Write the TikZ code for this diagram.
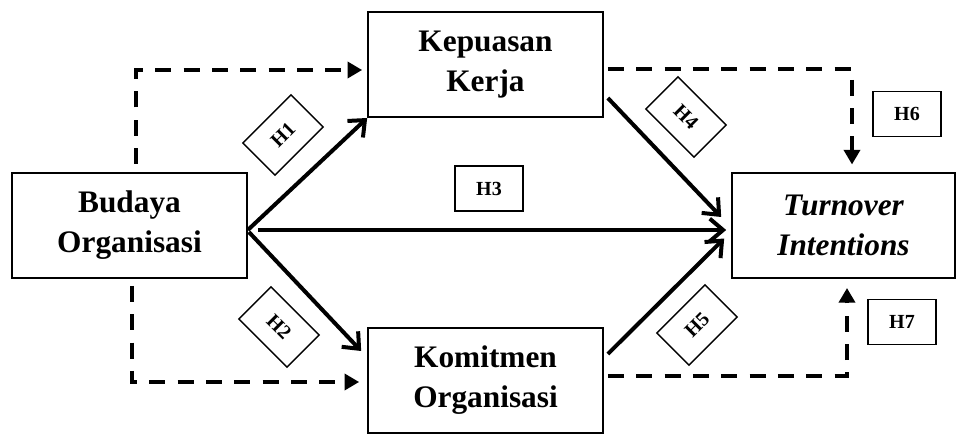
\documentclass[tikz,border=0pt]{standalone}
\usepackage{fontspec}
\setmainfont{Liberation Serif}
\usetikzlibrary{arrows.meta}
\begin{document}
\begin{tikzpicture}[x=0.75pt, y=-0.75pt, line width=3pt,
  main/.style = {draw, line width=1.5pt, minimum width=176pt, minimum height=78.75pt, inner sep=0pt, align=center, font=\fontsize{23.5}{30}\selectfont\bfseries},
  hyp/.style = {draw, line width=1.1pt, minimum width=51pt, minimum height=34pt, inner sep=0pt, font=\fontsize{15}{18}\selectfont\bfseries},
  solidarr/.style = {-{Straight Barb[length=10pt,width=17pt]}},
  dasharr/.style = {dash pattern=on 12pt off 9.25pt, -{Triangle[length=11pt,width=12pt]}}]
\useasboundingbox (0,0) rectangle (957,434);
\node[main] (1) at (129.5,225.5) {Budaya\\Organisasi};
\node[main] (2) at (485.5,64.5) {Kepuasan\\Kerja};
\node[main] (3) at (485.5,380.5) {Komitmen\\Organisasi};
\node[main, minimum width=167pt, font=\fontsize{23.5}{30}\selectfont\bfseries\itshape] (4) at (843.5,225.5) {Turnover\\Intentions};
\node[hyp, rotate=45] (h1) at (283,135) {H1};
\node[hyp, rotate=-45] (h2) at (279,327) {H2};
\node[hyp] (h3) at (489,188.5) {H3};
\node[hyp, rotate=-45] (h4) at (686,117) {H4};
\node[hyp, rotate=45] (h5) at (697,325) {H5};
\node[hyp] (h6) at (907,114) {H6};
\node[hyp] (h7) at (902,322) {H7};
\draw[solidarr] ([shift={(0,4.5)}]1.east) -- (2.south west);
\draw[solidarr] ([shift={(1,6.5)}]1.east) -- ([shift={(-6,24)}]3.north west);
\draw[solidarr] ([shift={(10,4.5)}]1.east) -- ([shift={(-5,4.5)}]4.west);
\draw[solidarr] ([shift={(4,-20)}]2.south east) -- ([shift={(-10,-8.5)}]4.west);
\draw[solidarr] ([shift={(4,27)}]3.north east) -- ([shift={(-7,13)}]4.west);
\draw[dasharr] ([shift={(6.5,-8)}]1.north) |- ([shift={(-5,5.5)}]2.west);
\draw[dasharr] ([shift={(2.5,7)}]1.south) |- ([shift={(-8,1.5)}]3.west);
\draw[dasharr] ([shift={(4,4.5)}]2.east) -| ([shift={(8.5,-7.5)}]4.north);
\draw[dasharr] ([shift={(4,-4.5)}]3.east) -| ([shift={(3.5,9)}]4.south);
\end{tikzpicture}
\end{document}
